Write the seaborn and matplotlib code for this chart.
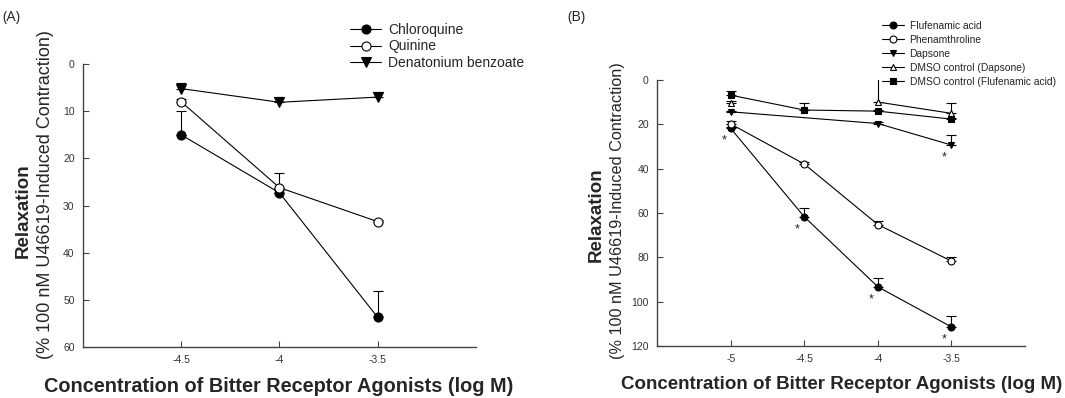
import numpy as np
import pandas as pd
import matplotlib
matplotlib.use("Agg")
import matplotlib.pyplot as plt
import seaborn as sns

# panel A data
conc_a = [-4.5, -4.0, -3.5]
chloroquine = [15.0, 27.3, 53.7]
chloroquine_err = [5.0, 0.5, 5.6]
quinine = [8.0, 26.2, 33.4]
quinine_err = [0.5, 3.2, 0.3]
denatonium = [5.2, 8.1, 7.0]
denatonium_err = [1.2, 1.1, 1.0]

# panel B data
conc_b = [-5.0, -4.5, -4.0, -3.5]
flufenamic = [21.8, 61.7, 93.3, 111.4]
flufenamic_err = [0.5, 3.8, 4.2, 4.9]
phenanthroline = [19.8, 37.9, 65.2, 81.7]
phenanthroline_err = [1.5, 0.8, 1.5, 1.8]
conc_dapsone = [-5.0, -4.0, -3.5]
dapsone = [14.3, 19.6, 29.3]
dapsone_err = [0.5, 0.5, 4.5]
dmso_dapsone = [10.2, np.nan, 9.9, 15.0]
dmso_dapsone_err = [1.0, np.nan, 12.0, 4.8]
dmso_flufenamic = [6.8, 13.5, 14.0, 17.6]
dmso_flufenamic_err = [1.8, 3.3, 0.5, 0.5]

# significance stars (x, y of the marked point)
stars_b = [(-5.0, 21.8), (-4.5, 61.7), (-4.0, 93.3), (-3.5, 111.4), (-3.5, 29.3)]

sns.set_theme(style="ticks")
plt.rcParams['font.family'] = ['Liberation Sans', 'DejaVu Sans']

fig = plt.figure(figsize=(10.65, 3.98), dpi=100)
ax_a = fig.add_axes([0.0779, 0.128, 0.369, 0.711])
ax_b = fig.add_axes([0.617, 0.1307, 0.3455, 0.668])


def draw(ax, x, y, err, label, marker, filled, ms):
    x = np.asarray(x, dtype=float)
    y = np.asarray(y, dtype=float)
    err = np.asarray(err, dtype=float)
    ax.errorbar(x, y, yerr=[err, np.zeros_like(err)], fmt='none',
                ecolor='black', elinewidth=0.8, capsize=3.5, capthick=0.8, zorder=2)
    df = pd.DataFrame({'x': x, 'y': y})
    # a missing value breaks the line into separate pieces
    df['seg'] = df['y'].isna().cumsum()
    df = df.dropna()
    first = True
    for _, part in df.groupby('seg'):
        sns.lineplot(data=part, x='x', y='y', ax=ax, estimator=None, sort=False,
                     color='black', linewidth=0.8, marker=marker, markersize=ms,
                     markerfacecolor='black' if filled else 'white',
                     markeredgecolor='black', markeredgewidth=0.8,
                     label=label if first else None, zorder=3)
        first = False


draw(ax_a, conc_a, chloroquine, chloroquine_err, 'Chloroquine', 'o', True, 6.5)
draw(ax_a, conc_a, quinine, quinine_err, 'Quinine', 'o', False, 6.5)
draw(ax_a, conc_a, denatonium, denatonium_err, 'Denatonium benzoate', 'v', True, 6.5)

draw(ax_b, conc_b, flufenamic, flufenamic_err, 'Flufenamic acid', 'o', True, 5)
draw(ax_b, conc_b, phenanthroline, phenanthroline_err, 'Phenamthroline', 'o', False, 5)
draw(ax_b, conc_dapsone, dapsone, dapsone_err, 'Dapsone', 'v', True, 5)
draw(ax_b, conc_b, dmso_dapsone, dmso_dapsone_err, 'DMSO control (Dapsone)', '^', False, 5)
draw(ax_b, conc_b, dmso_flufenamic, dmso_flufenamic_err, 'DMSO control (Flufenamic acid)', 's', True, 5)

for sx, sy in stars_b:
    ax_b.annotate('*', (sx, sy), xytext=(-5, -9), textcoords='offset points',
                  ha='center', va='center', fontsize=9, color='#222222')

ax_a.set_xlim(-5, -3)
ax_a.set_ylim(60, 0)
ax_a.set_xticks([-4.5, -4, -3.5])
ax_a.set_xticklabels(['-4.5', '-4', '-3.5'])
ax_a.set_yticks(range(0, 61, 10))

ax_b.set_xlim(-5.5, -3)
ax_b.set_ylim(120, 0)
ax_b.set_xticks([-5, -4.5, -4, -3.5])
ax_b.set_xticklabels(['-5', '-4.5', '-4', '-3.5'])
ax_b.set_yticks(range(0, 121, 20))

for ax in (ax_a, ax_b):
    sns.despine(ax=ax)
    ax.spines['left'].set_color('#444444')
    ax.spines['bottom'].set_color('#444444')
    ax.spines['left'].set_linewidth(1.0)
    ax.spines['bottom'].set_linewidth(1.0)
    ax.tick_params(direction='in', length=4, width=0.8, colors='#444444',
                   labelsize=7.5, labelcolor='#333333', pad=6)
    ax.set_xlabel('')
    ax.set_ylabel('')
    ax.get_legend().remove()

# axis titles
fig.text(0.022, 0.47, 'Relaxation', rotation=90, ha='center', va='center',
         fontsize=13.5, fontweight='bold')
fig.text(0.043, 0.51, '(% 100 nM U46619-Induced Contraction)', rotation=90,
         ha='center', va='center', fontsize=13)
fig.text(0.262, 0.028, 'Concentration of Bitter Receptor Agonists (log M)',
         ha='center', va='center', fontsize=14.3, fontweight='bold')

fig.text(0.560, 0.46, 'Relaxation', rotation=90, ha='center', va='center',
         fontsize=13.5, fontweight='bold')
fig.text(0.580, 0.47, '(% 100 nM U46619-Induced Contraction)', rotation=90,
         ha='center', va='center', fontsize=11.7)
fig.text(0.790, 0.033, 'Concentration of Bitter Receptor Agonists (log M)',
         ha='center', va='center', fontsize=13.5, fontweight='bold')

fig.text(0.002, 0.975, '(A)', ha='left', va='top', fontsize=10.5, family=['Open Sans', 'DejaVu Sans'])
fig.text(0.533, 0.975, '(B)', ha='left', va='top', fontsize=10.5, family=['Open Sans', 'DejaVu Sans'])

# legends
h, l = ax_a.get_legend_handles_labels()
fig.legend(h, l, loc='upper left', bbox_to_anchor=(0.329, 0.943), frameon=False,
           fontsize=10, handlelength=2.2, handletextpad=0.5, labelspacing=0.2,
           borderpad=0, borderaxespad=0)
h, l = ax_b.get_legend_handles_labels()
fig.legend(h, l, loc='upper left', bbox_to_anchor=(0.828, 0.947), frameon=False,
           fontsize=7.4, handlelength=2.2, handletextpad=0.5, labelspacing=0.38,
           borderpad=0, borderaxespad=0)

fig.savefig('out.png', dpi=100, facecolor='white')
